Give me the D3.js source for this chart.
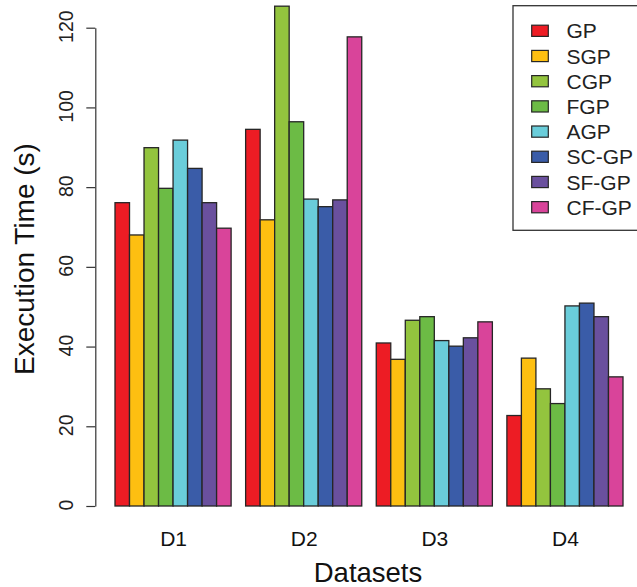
<!DOCTYPE html>
<html>
<head>
<meta charset="utf-8">
<script src="https://cdn.jsdelivr.net/npm/d3@7"></script>
<style>
  html, body { margin: 0; padding: 0; background: #fff; }
  svg { display: block; font-family: "Liberation Sans", Arial, sans-serif; }
</style>
</head>
<body>
<svg id="chart" width="637" height="587"></svg>
<script>
// Datasets on the x axis and the methods compared on each
const datasets = ["D1", "D2", "D3", "D4"];
const methods = ["GP", "SGP", "CGP", "FGP", "AGP", "SC-GP", "SF-GP", "CF-GP"];
const methodColors = ["#ED1C24", "#FDBF11", "#93C43E", "#6CBB45", "#6ACDDA", "#3A5CA8", "#6A509E", "#D9449A"];

// Execution time (s) per method, one array per dataset
const timeD1 = [76.1, 68.0, 89.9, 79.7, 91.8, 84.7, 76.1, 69.7];
const timeD2 = [94.5, 71.8, 125.4, 96.4, 77.0, 75.1, 76.8, 117.7];
const timeD3 = [40.9, 36.8, 46.6, 47.5, 41.5, 40.1, 42.2, 46.2];
const timeD4 = [22.7, 37.1, 29.4, 25.7, 50.2, 50.9, 47.5, 32.4];
const times = [timeD1, timeD2, timeD3, timeD4];

const yTicks = [0, 20, 40, 60, 80, 100, 120];

const svg = d3.select("#chart");

// Each bar is one unit wide; groups are separated by one empty unit
const nM = methods.length;
const groupStep = nM + 1;
const totalUnits = datasets.length * nM + (datasets.length - 1);
const x = d3.scaleLinear().domain([0, totalUnits]).range([115, 623]);
const y = d3.scaleLinear().domain([0, 120]).range([506, 27.7]);

const bars = [];
times.forEach((vals, g) => {
  vals.forEach((v, i) => bars.push({ g, i, v }));
});

svg.append("g")
  .selectAll("rect")
  .data(bars)
  .join("rect")
  .attr("x", d => x(d.g * groupStep + d.i))
  .attr("width", d => x(d.g * groupStep + d.i + 1) - x(d.g * groupStep + d.i))
  .attr("y", d => y(d.v))
  .attr("height", d => y(0) - y(d.v))
  .attr("fill", d => methodColors[d.i])
  .attr("stroke", "#262626")
  .attr("stroke-width", 1.3);

// Y axis with labels parallel to the axis
const yAxis = svg.append("g")
  .attr("transform", "translate(95.3,0)")
  .call(d3.axisLeft(y).tickValues(yTicks).tickSize(9).tickPadding(0).tickSizeOuter(0));
yAxis.select(".domain").attr("stroke", "#333").attr("stroke-width", 1.2);
yAxis.selectAll(".tick line").attr("stroke", "#333").attr("stroke-width", 1.2);
yAxis.selectAll(".tick text")
  .attr("x", null).attr("dy", null)
  .attr("transform", "translate(-22,-1.5) rotate(-90)")
  .attr("text-anchor", "middle")
  .attr("fill", "#222")
  .style("font-size", "19.5px")
  .style("font-family", "'Liberation Sans', Arial, sans-serif");

// X axis: dataset names under each group, no axis line
const xCenters = datasets.map((d, g) => x(g * groupStep + nM / 2));
const xBand = d3.scaleOrdinal().domain(datasets).range(xCenters);
const xAxis = svg.append("g")
  .attr("transform", "translate(0,506)")
  .call(d3.axisBottom(xBand).tickSize(0).tickPadding(0));
xAxis.select(".domain").remove();
xAxis.selectAll(".tick text")
  .attr("y", 40).attr("dy", null)
  .attr("fill", "#111")
  .style("font-size", "21px")
  .style("font-family", "'Liberation Sans', Arial, sans-serif");

// Axis titles
svg.append("text")
  .attr("x", 368).attr("y", 582)
  .attr("text-anchor", "middle")
  .attr("fill", "#111")
  .style("font-size", "27.5px")
  .text("Datasets");

svg.append("text")
  .attr("transform", "translate(34,259) rotate(-90)")
  .attr("text-anchor", "middle")
  .attr("fill", "#111")
  .style("font-size", "28px")
  .text("Execution Time (s)");

// Legend (box runs past the right edge of the canvas)
const legend = svg.append("g");
legend.append("rect")
  .attr("x", 513).attr("y", 5.7)
  .attr("width", 140).attr("height", 224.6)
  .attr("fill", "#fff")
  .attr("stroke", "#333").attr("stroke-width", 1.3);

const rowY = d3.scaleLinear().domain([0, nM - 1]).range([30.8, 207.2]);
const rows = legend.selectAll("g.row")
  .data(methods)
  .join("g")
  .attr("class", "row")
  .attr("transform", (d, i) => `translate(0,${rowY(i)})`);
rows.append("rect")
  .attr("x", 531.7).attr("y", -5.6)
  .attr("width", 16.6).attr("height", 11.2)
  .attr("fill", (d, i) => methodColors[i])
  .attr("stroke", "#262626").attr("stroke-width", 1.2);
rows.append("text")
  .attr("x", 566.5).attr("y", 7.5)
  .attr("fill", "#222")
  .style("font-size", "21px")
  .text(d => d);
</script>
</body>
</html>
